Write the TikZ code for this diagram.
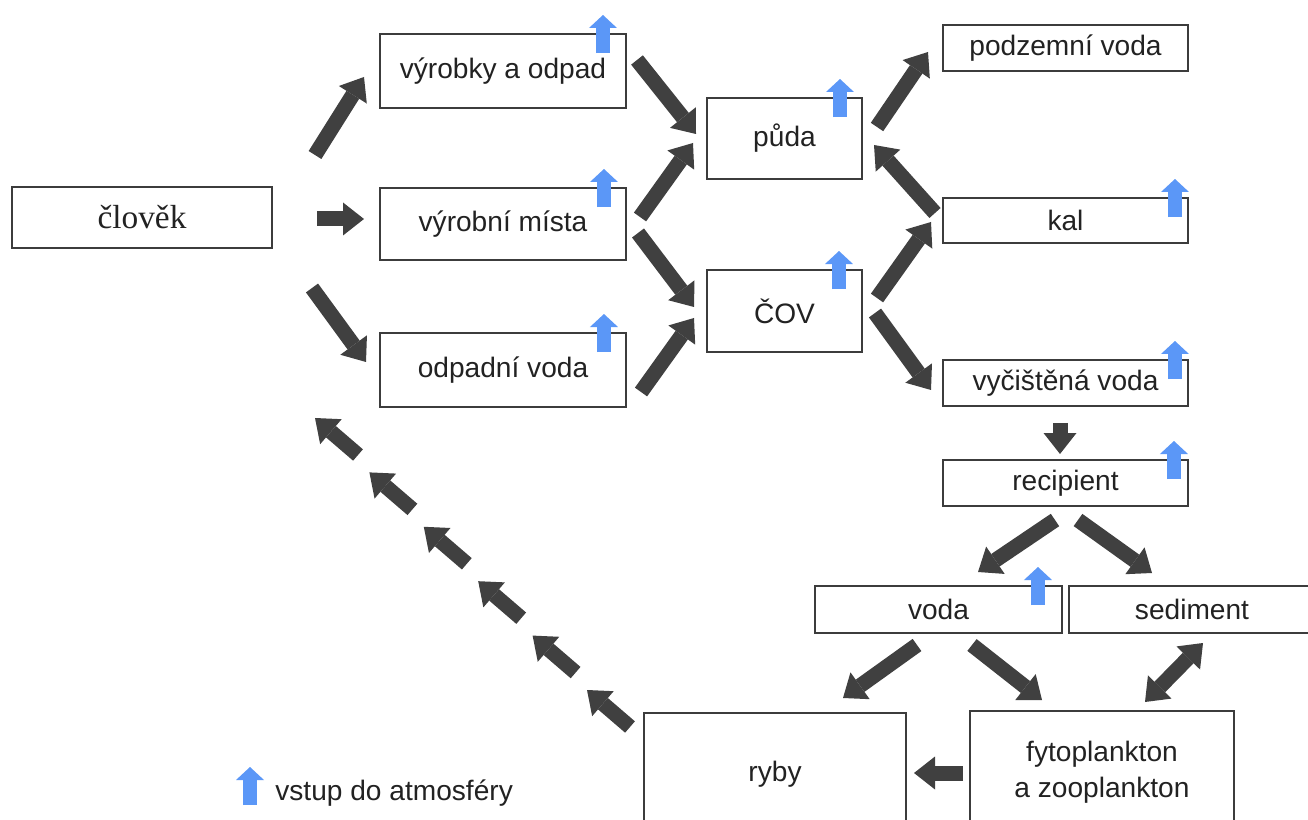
\documentclass[tikz,border=0pt]{standalone}
\usepackage{fontspec}
\setmainfont{Liberation Sans}
\newfontfamily\serifcz{Liberation Serif}
\usetikzlibrary{arrows.meta,calc}
\definecolor{arrgray}{HTML}{404040}
\definecolor{atmblue}{HTML}{5B97F7}
\definecolor{boxline}{HTML}{3C3C3C}
\definecolor{txt}{HTML}{222222}
\begin{document}
\begin{tikzpicture}[x=0.02cm,y=-0.02cm,
  box/.style={draw=boxline,line width=1.1pt,fill=white,inner sep=0pt,outer sep=0pt,
    font=\fontsize{16}{20.4}\selectfont,text=txt,align=center},
  flow/.style={draw=arrgray,line width=0.3cm,
    -{Triangle[length=0.42cm,width=0.66cm,line width=0pt]}},
  flowboth/.style={draw=arrgray,line width=0.3cm,
    {Triangle[length=0.42cm,width=0.66cm,line width=0pt]}-{Triangle[length=0.42cm,width=0.66cm,line width=0pt]}},
  atm/.style={draw=atmblue,line width=0.28cm,
    -{Triangle[length=0.26cm,width=0.56cm,line width=0pt]}}]
\fill[white] (0,0) rectangle (1308,820);
\useasboundingbox (0,0) rectangle (1308,820);

% boxes
\node[box,minimum width=5.2cm,minimum height=1.22cm,font=\serifcz\fontsize{19}{22}\selectfont] (clovek) at (142,217.5) {člověk};
\node[box,minimum width=4.92cm,minimum height=1.48cm] (vyrobky) at (503,71) {výrobky a odpad};
\node[box,minimum width=4.92cm,minimum height=1.44cm] (mista) at (503,224) {výrobní místa};
\node[box,minimum width=4.92cm,minimum height=1.48cm] (odpad) at (503,370) {odpadní voda};
\node[box,minimum width=3.1cm,minimum height=1.62cm] (puda) at (784.5,138.5) {půda};
\node[box,minimum width=3.1cm,minimum height=1.64cm] (cov) at (784.5,311) {ČOV};
\node[box,minimum width=4.9cm,minimum height=0.92cm] (podzemni) at (1065.5,48) {podzemní voda};
\node[box,minimum width=4.9cm,minimum height=0.9cm] (kal) at (1065.5,220.5) {kal};
\node[box,minimum width=4.9cm,minimum height=0.92cm] (vycistena) at (1065.5,383) {vyčištěná voda};
\node[box,minimum width=4.9cm,minimum height=0.92cm] (recipient) at (1065.5,483) {recipient};
\node[box,minimum width=4.94cm,minimum height=0.94cm] (voda) at (938.5,609.5) {voda};
\node[box,minimum width=4.92cm,minimum height=0.94cm] (sediment) at (1192,609.5) {sediment};
\node[box,minimum width=5.24cm,minimum height=2.44cm] (ryby) at (775,774) {ryby};
\node[box,minimum width=5.28cm,minimum height=2.44cm] (fyto) at (1102,772) {fytoplankton\\a zooplankton};

% atmosphere markers
\draw[atm] ($(vyrobky.north east)+(-23,19)$) -- ++(0,-38);
\draw[atm] ($(mista.north east)+(-22,19)$) -- ++(0,-38);
\draw[atm] ($(odpad.north east)+(-22,19)$) -- ++(0,-38);
\draw[atm] ($(puda.north east)+(-22,19)$) -- ++(0,-38);
\draw[atm] ($(cov.north east)+(-23,19)$) -- ++(0,-38);
\draw[atm] ($(kal.north east)+(-13,19)$) -- ++(0,-38);
\draw[atm] ($(vycistena.north east)+(-13,19)$) -- ++(0,-38);
\draw[atm] ($(recipient.north east)+(-14,19)$) -- ++(0,-38);
\draw[atm] ($(voda.north east)+(-24,19)$) -- ++(0,-38);

% arrow end points
\coordinate (a1s) at (315,155);  \coordinate (a1e) at (364,77);
\coordinate (a2s) at (317,219);  \coordinate (a2e) at (364,219);
\coordinate (a3s) at (312,288);  \coordinate (a3e) at (366,362);
\coordinate (a4s) at (637,60);   \coordinate (a4e) at (696,134);
\coordinate (a5s) at (640,217);  \coordinate (a5e) at (693,143);
\coordinate (a6s) at (638,233);  \coordinate (a6e) at (694,307);
\coordinate (a7s) at (641,392);  \coordinate (a7e) at (694,318);
\coordinate (a8s) at (877,127);  \coordinate (a8e) at (928,52);
\coordinate (a9s) at (935,213);  \coordinate (a9e) at (874,145);
\coordinate (a10s) at (877,298); \coordinate (a10e) at (931,222);
\coordinate (a11s) at (875,313); \coordinate (a11e) at (931,390);
\coordinate (a12s) at (1060,423); \coordinate (a12e) at (1060,454);
\coordinate (a13s) at (1055,520); \coordinate (a13e) at (978,572);
\coordinate (a14s) at (1078,520); \coordinate (a14e) at (1152,573);
\coordinate (a15s) at (917,645); \coordinate (a15e) at (843,698);
\coordinate (a16s) at (972,645); \coordinate (a16e) at (1042,700);
\coordinate (a17s) at (1145,702); \coordinate (a17e) at (1203,643);
\coordinate (a18s) at (963,773); \coordinate (a18e) at (914,773);

\draw[flow] (a1s) -- (a1e);
\draw[flow] (a2s) -- (a2e);
\draw[flow] (a3s) -- (a3e);
\draw[flow] (a4s) -- (a4e);
\draw[flow] (a5s) -- (a5e);
\draw[flow] (a6s) -- (a6e);
\draw[flow] (a7s) -- (a7e);
\draw[flow] (a8s) -- (a8e);
\draw[flow] (a9s) -- (a9e);
\draw[flow] (a10s) -- (a10e);
\draw[flow] (a11s) -- (a11e);
\draw[flow] (a12s) -- (a12e);
\draw[flow] (a13s) -- (a13e);
\draw[flow] (a14s) -- (a14e);
\draw[flow] (a15s) -- (a15e);
\draw[flow] (a16s) -- (a16e);
\draw[flowboth] (a17s) -- (a17e);
\draw[flow] (a18s) -- (a18e);

% chain of arrows ryby -> clovek
\coordinate (chainA) at (315,418);
\coordinate (chainB) at (587,690);
\foreach \i in {0,...,5}
  \draw[flow] ($(chainA)!\i/5!(chainB)+(43,37)$) -- ($(chainA)!\i/5!(chainB)$);

% legend
\coordinate (legarr) at (250,805);
\draw[atm] (legarr) -- ++(0,-38);
\node[anchor=base west,inner sep=0pt,font=\fontsize{16}{20}\selectfont,text=txt] (legend) at (275,800) {vstup do atmosféry};
\end{tikzpicture}
\end{document}
